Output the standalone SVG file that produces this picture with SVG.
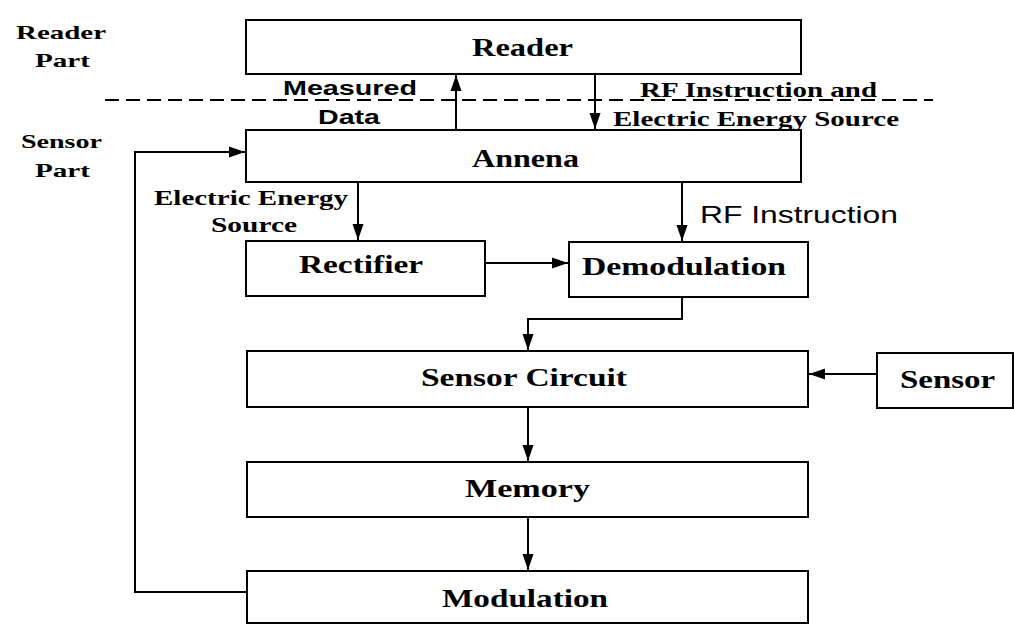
<svg xmlns="http://www.w3.org/2000/svg" width="1014" height="625" viewBox="0 0 1014 625">
<style>
.box{fill:#fff;stroke:#000;stroke-width:2}
.ln{fill:none;stroke:#000;stroke-width:2}
.sb{font-family:"Liberation Serif","Times New Roman",serif;font-weight:bold;fill:#000}
.ss{font-family:"Liberation Sans",Arial,sans-serif;fill:#000}
</style>
<defs>
<marker id="ah" markerUnits="userSpaceOnUse" markerWidth="18" markerHeight="14" refX="16" refY="7" orient="auto">
<path d="M0,1.5 L16,7 L0,12.5 Z" fill="#000"/>
</marker>
</defs>
<rect width="1014" height="625" fill="#fff"/>
<g id="section-labels">
<text class="sb" x="16" y="39" font-size="19" textLength="90" lengthAdjust="spacingAndGlyphs">Reader</text>
<text class="sb" x="35" y="67" font-size="19" textLength="55" lengthAdjust="spacingAndGlyphs">Part</text>
<text class="sb" x="21" y="148" font-size="19" textLength="81" lengthAdjust="spacingAndGlyphs">Sensor</text>
<text class="sb" x="35" y="177" font-size="19" textLength="55" lengthAdjust="spacingAndGlyphs">Part</text>
</g>
<g id="divider">
<line x1="105" y1="100" x2="933" y2="100" stroke="#000" stroke-width="2" stroke-dasharray="14,7"/>
</g>
<g id="connectors">
<line class="ln" x1="456" y1="130" x2="456" y2="75" marker-end="url(#ah)"/>
<line class="ln" x1="595" y1="74" x2="595" y2="129" marker-end="url(#ah)"/>
<line class="ln" x1="358" y1="182" x2="358" y2="240" marker-end="url(#ah)"/>
<line class="ln" x1="682" y1="182" x2="682" y2="241" marker-end="url(#ah)"/>
<line class="ln" x1="485" y1="263" x2="568" y2="263" marker-end="url(#ah)"/>
<polyline class="ln" points="682,297 682,319 528,319 528,350" marker-end="url(#ah)"/>
<line class="ln" x1="877" y1="374" x2="809" y2="374" marker-end="url(#ah)"/>
<line class="ln" x1="528" y1="407" x2="528" y2="461" marker-end="url(#ah)"/>
<line class="ln" x1="528" y1="517" x2="528" y2="570" marker-end="url(#ah)"/>
<polyline class="ln" points="247,592 135,592 135,152 245,152" marker-end="url(#ah)"/>
<text class="ss" x="283" y="95" font-size="20" font-weight="bold" textLength="134" lengthAdjust="spacingAndGlyphs">Measured</text>
<text class="ss" x="318" y="124" font-size="20" font-weight="bold" textLength="62" lengthAdjust="spacingAndGlyphs">Data</text>
<text class="sb" x="640" y="97" font-size="22" textLength="237" lengthAdjust="spacingAndGlyphs">RF Instruction and</text>
<text class="sb" x="613" y="126" font-size="22" textLength="286" lengthAdjust="spacingAndGlyphs">Electric Energy Source</text>
<text class="sb" x="154" y="205" font-size="20" textLength="194" lengthAdjust="spacingAndGlyphs">Electric Energy</text>
<text class="sb" x="211" y="232" font-size="20" textLength="86" lengthAdjust="spacingAndGlyphs">Source</text>
<text class="ss" x="700" y="223" font-size="24" textLength="198" lengthAdjust="spacingAndGlyphs">RF Instruction</text>
</g>
<g id="reader">
<rect class="box" x="246" y="20" width="555" height="54"/>
<text class="sb" x="472" y="56" font-size="25" textLength="101" lengthAdjust="spacingAndGlyphs">Reader</text>
</g>
<g id="antenna">
<rect class="box" x="246" y="130" width="555" height="52"/>
<text class="sb" x="472" y="167" font-size="25" textLength="107" lengthAdjust="spacingAndGlyphs">Annena</text>
</g>
<g id="rectifier">
<rect class="box" x="246" y="241" width="239" height="55"/>
<text class="sb" x="299" y="273" font-size="25" textLength="124" lengthAdjust="spacingAndGlyphs">Rectifier</text>
</g>
<g id="demodulation">
<rect class="box" x="569" y="242" width="239" height="55"/>
<text class="sb" x="582" y="275" font-size="25" textLength="204" lengthAdjust="spacingAndGlyphs">Demodulation</text>
</g>
<g id="sensor-circuit">
<rect class="box" x="247" y="351" width="561" height="56"/>
<text class="sb" x="421" y="386" font-size="25" textLength="206" lengthAdjust="spacingAndGlyphs">Sensor Circuit</text>
</g>
<g id="sensor">
<rect class="box" x="877" y="353" width="136" height="55"/>
<text class="sb" x="900" y="388" font-size="25" textLength="95" lengthAdjust="spacingAndGlyphs">Sensor</text>
</g>
<g id="memory">
<rect class="box" x="247" y="462" width="561" height="55"/>
<text class="sb" x="465" y="497" font-size="25" textLength="125" lengthAdjust="spacingAndGlyphs">Memory</text>
</g>
<g id="modulation">
<rect class="box" x="247" y="571" width="561" height="52"/>
<text class="sb" x="442" y="607" font-size="25" textLength="166" lengthAdjust="spacingAndGlyphs">Modulation</text>
</g>
</svg>
